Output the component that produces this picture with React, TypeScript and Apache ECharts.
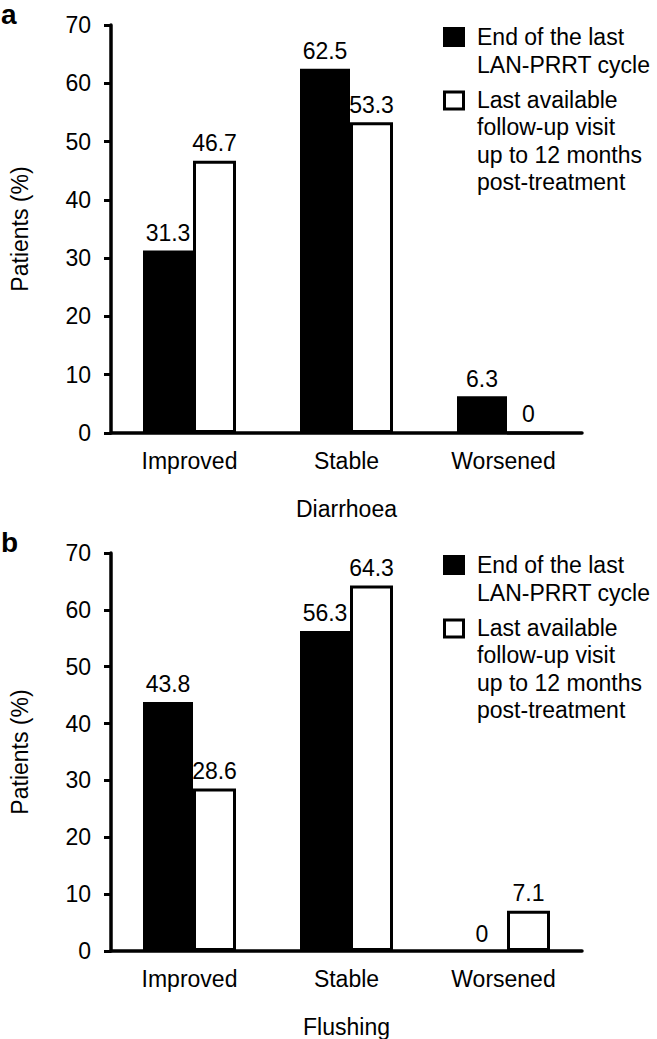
import React, { useEffect, useRef } from "react";
import * as echarts from "echarts";

const categories = ["Improved", "Stable", "Worsened"];
const diarrhoeaEndOfCycle = [31.3, 62.5, 6.3];
const diarrhoeaFollowUp = [46.7, 53.3, 0];
const flushingEndOfCycle = [43.8, 56.3, 0];
const flushingFollowUp = [28.6, 64.3, 7.1];
const panelNames = ["Diarrhoea", "Flushing"];
const panelLetters = ["a", "b"];
const legendEnd = ["End of the last", "LAN-PRRT cycle"];
const legendFollow = ["Last available", "follow-up visit", "up to 12 months", "post-treatment"];
const yMin = 0;
const yMax = 70;
const yInterval = 10;

const FONT = '"Liberation Sans", Arial, Helvetica, sans-serif';
const FS = 23;

export default function App() {
  const ref = useRef<HTMLDivElement>(null);
  useEffect(() => {
    document.body.style.margin = "0";
    const chart = echarts.init(ref.current!, null, { renderer: "svg" });
    const panelTops = [25, 553];
    const gridH = 408;
    const grids = panelTops.map((t) => ({ left: 92, top: t, width: 490, height: gridH }));
    const xAxes = panelTops.map((_, i) => ({
      type: "category",
      gridIndex: i,
      data: categories,
      name: panelNames[i],
      nameLocation: "middle",
      nameGap: 64,
      nameTextStyle: { fontSize: FS, color: "#000", fontFamily: FONT },
      axisLine: { show: true, lineStyle: { color: "#000", width: 3.5 } },
      axisTick: { show: false },
      axisLabel: { fontSize: FS, color: "#000", fontFamily: FONT, margin: 16 },
    }));
    const yAxes = panelTops.map((_, i) => ({
      type: "value",
      gridIndex: i,
      min: yMin,
      max: yMax,
      interval: yInterval,
      name: "Patients (%)",
      nameLocation: "middle",
      nameGap: 80,
      nameTextStyle: { fontSize: FS, color: "#000", fontFamily: FONT },
      axisLine: { show: true, lineStyle: { color: "#000", width: 3.5 } },
      axisTick: { show: true, length: 7, lineStyle: { color: "#000", width: 3 } },
      axisLabel: { fontSize: FS, color: "#000", fontFamily: FONT, margin: 20 },
      splitLine: { show: false },
    }));
    const labelCfg = {
      show: true,
      position: "top",
      distance: 6,
      fontSize: FS,
      color: "#000",
      fontFamily: FONT,
      formatter: (p: any) => String(p.value),
    };
    const mkSeries = (data: number[], idx: number, white: boolean, name: string) => ({
      type: "bar",
      name,
      xAxisIndex: idx,
      yAxisIndex: idx,
      data,
      barWidth: white ? 43 : 50,
      barGap: "0%",
      itemStyle: white
        ? { color: "#fff", borderColor: "#000", borderWidth: 3 }
        : { color: "#000" },
      label: labelCfg,
    });
    const series = [
      mkSeries(diarrhoeaEndOfCycle, 0, false, legendEnd.join(" ")),
      mkSeries(diarrhoeaFollowUp, 0, true, legendFollow.join(" ")),
      mkSeries(flushingEndOfCycle, 1, false, legendEnd.join(" ")),
      mkSeries(flushingFollowUp, 1, true, legendFollow.join(" ")),
    ];
    const graphic: any[] = [];
    panelTops.forEach((t, i) => {
      const off = t - 25;
      graphic.push({
        type: "text",
        left: 1,
        top: off,
        style: { text: panelLetters[i], font: `bold 28px ${FONT}`, fill: "#000" },
      });
      graphic.push({
        type: "rect",
        shape: { x: 443, y: 27 + off, width: 22, height: 20 },
        style: { fill: "#000" },
      });
      graphic.push({
        type: "text",
        x: 477,
        y: 23 + off,
        style: {
          text: legendEnd.join("\n"),
          font: `${FS}px ${FONT}`,
          fill: "#000",
          lineHeight: 28,
          verticalAlign: "top",
        },
      });
      graphic.push({
        type: "rect",
        shape: { x: 444.5, y: 92 + off, width: 19, height: 17 },
        style: { fill: "#fff", stroke: "#000", lineWidth: 3 },
      });
      graphic.push({
        type: "text",
        x: 477,
        y: 86 + off,
        style: {
          text: legendFollow.join("\n"),
          font: `${FS}px ${FONT}`,
          fill: "#000",
          lineHeight: 27.5,
          verticalAlign: "top",
        },
      });
    });
    chart.setOption({
      animation: false,
      backgroundColor: "#fff",
      textStyle: { fontFamily: FONT },
      grid: grids,
      xAxis: xAxes,
      yAxis: yAxes,
      series,
      graphic,
    } as any);
    return () => chart.dispose();
  }, []);
  return <div ref={ref} style={{ width: 657, height: 1039 }} />;
}
